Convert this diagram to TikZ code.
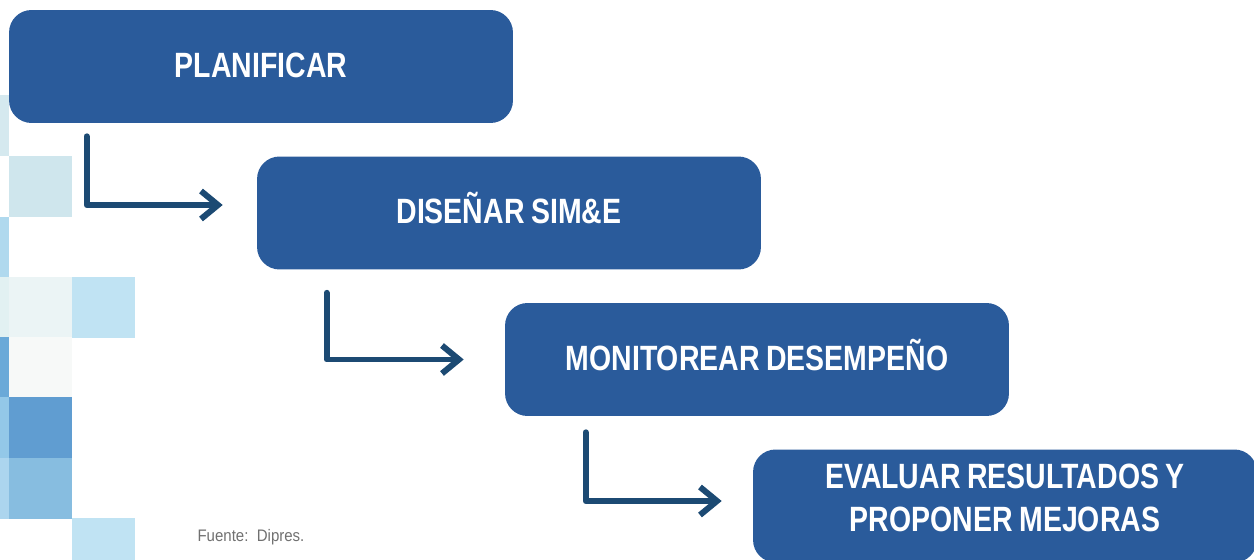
\documentclass[tikz,border=0pt]{standalone}
\usepackage{fontspec}
\setmainfont{Liberation Sans}
\newfontfamily\cajafont[FakeStretch=0.81,WordSpace=0.85]{Liberation Sans}
\newfontfamily\fuentefont[FakeStretch=0.9]{Liberation Sans}
\usetikzlibrary{arrows.meta}
\definecolor{caja}{HTML}{2A5B9B}
\definecolor{flecha}{HTML}{1C4A73}
\definecolor{gris}{HTML}{707070}
\begin{document}
\begin{tikzpicture}[x=0.02cm,y=-0.02cm]
	\tikzstyle{every node}=[inner sep=0pt]
	\tikzstyle{paso}=[fill=caja, rounded corners=0.45cm, minimum width=10.08cm, minimum height=2.26cm,
					text=white, font=\cajafont\bfseries\fontsize{20}{24}\selectfont, align=center]
	\tikzstyle{unalinea}=[text height=14.3pt, text depth=2.3pt]
	\tikzstyle{flechita}=[draw=flecha, line width=0.12cm, line cap=round, line join=round,
					-{Straight Barb[length=0.34cm,width=0.56cm]}]
	\useasboundingbox (0,0) rectangle (1254,560);
	
	\foreach \x/\y/\w/\c in {0/95/9/D5E9EF, 0/217/9/B0D9EE, 0/277/9/E2F1F2, 0/337/9/6AA9D8,
					0/397/9/93C8E8, 0/458/9/ACD5EE, 9/156/63/CFE6ED, 9/277/63/EBF4F5,
					9/337/63/F7F9F8, 9/397/63/609DD1, 9/458/63/87BDE0, 72/277/63/C0E3F3,
					72/518/63/C0E3F3}
	{
		\definecolor{celda}{HTML}{\c}
		\fill[celda] (\x,\y) rectangle ++(\w,61);
	}
	
	\node[paso, unalinea] (plan) at (261,66.5) {PLANIFICAR};
	\node[paso, unalinea] (dis) at (509,213) {DISEÑAR SIM\&E};
	\node[paso, unalinea] (mon) at (757,359.5) {MONITOREAR DESEMPEÑO};
	\node[paso] (eva) at (1005,506) {\raisebox{0.09cm}[\height][\depth]{\begin{tabular}{@{}c@{}}EVALUAR RESULTADOS Y\\PROPONER MEJORAS\end{tabular}}};
	\node[font=\fuentefont\fontsize{9.5}{11}\selectfont, text=gris] (fuente) at (251,537) {Fuente:\ \ Dipres.};
	
	\draw[flechita] ([xshift=1.56cm,yshift=-0.26cm]plan.south west) |- ([xshift=-0.68cm,yshift=0.16cm]dis.west);
	\draw[flechita] ([xshift=1.40cm,yshift=-0.46cm]dis.south west) |- ([xshift=-0.82cm]mon.west);
	\draw[flechita] ([xshift=1.62cm,yshift=-0.32cm]mon.south west) |- ([xshift=-0.62cm,yshift=0.10cm]eva.west);
\end{tikzpicture}
\end{document}
